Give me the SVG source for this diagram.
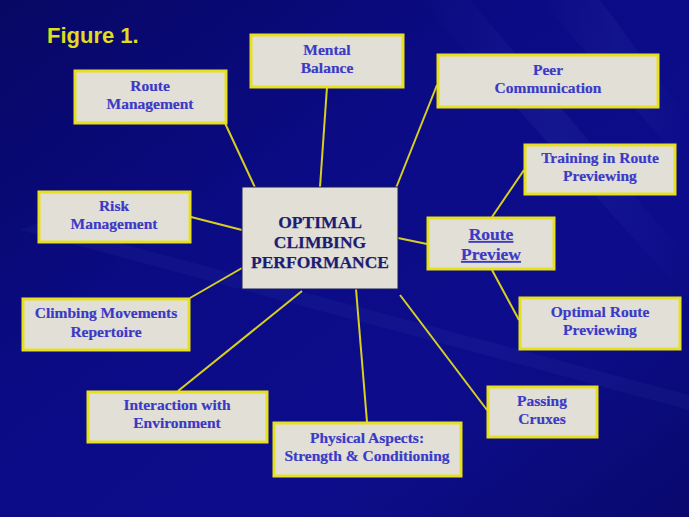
<svg xmlns="http://www.w3.org/2000/svg" width="689" height="517" viewBox="0 0 689 517">
<defs>
<linearGradient id="bg" x1="0" y1="0" x2="1" y2="1">
<stop offset="0" stop-color="#070764"/>
<stop offset="0.4" stop-color="#0b0b86"/>
<stop offset="0.7" stop-color="#0d0d8c"/>
<stop offset="1" stop-color="#09096e"/>
</linearGradient>
<linearGradient id="streak" x1="0" y1="0" x2="1" y2="0">
<stop offset="0" stop-color="#3a4ab0" stop-opacity="0"/>
<stop offset="0.5" stop-color="#3a4ab0" stop-opacity="0.35"/>
<stop offset="1" stop-color="#3a4ab0" stop-opacity="0"/>
</linearGradient>
<style>
.box{fill:#e2dfd6;stroke:#e6e020;stroke-width:3}
.center{fill:#e2dfd6;stroke:#1a1a5a;stroke-width:1}
.lbl{font-family:"Liberation Serif","Times New Roman",serif;font-weight:bold;font-size:15.5px;fill:#3a3ac6;text-anchor:middle;stroke:#3a3ac6;stroke-width:0.2}
.ctr{font-family:"Liberation Serif","Times New Roman",serif;font-weight:bold;font-size:17.5px;fill:#1c1c72;text-anchor:middle;stroke:#1c1c72;stroke-width:0.25}
.rp{font-family:"Liberation Serif","Times New Roman",serif;font-weight:bold;font-size:17.5px;fill:#3a3ac6;text-anchor:middle;text-decoration:underline;stroke:#3a3ac6;stroke-width:0.2}
.conn line{stroke:#d8d020;stroke-width:2}
</style>
</defs>
<rect width="689" height="517" fill="url(#bg)"/>
<g id="background-streaks">
<polygon points="420,0 470,0 689,260 689,300" fill="url(#streak)" opacity="0.5"/>
<polygon points="540,0 600,0 689,120 689,170" fill="url(#streak)" opacity="0.4"/>
<polygon points="20,230 40,222 689,395 689,410" fill="#3a4ab0" opacity="0.12"/>
</g>
<text x="47" y="43" font-family="Liberation Sans,Arial,sans-serif" font-weight="bold" font-size="22" fill="#e0dc20">Figure 1.</text>
<g class="conn" id="connectors">
<line x1="224" y1="121" x2="258" y2="194"/>
<line x1="327" y1="87" x2="320" y2="187"/>
<line x1="437" y1="85" x2="396" y2="188"/>
<line x1="191" y1="217" x2="242" y2="230"/>
<line x1="190" y1="298" x2="242" y2="268"/>
<line x1="178" y1="391" x2="302" y2="291"/>
<line x1="367" y1="422" x2="356" y2="289"/>
<line x1="487" y1="410" x2="400" y2="295"/>
<line x1="398" y1="238" x2="427" y2="244"/>
<line x1="524" y1="170" x2="492" y2="217"/>
<line x1="519" y1="320" x2="492" y2="270"/>
</g>
<g id="node-mental">
<rect class="box" x="251" y="35" width="152" height="52"/>
<text class="lbl" x="327" y="55">Mental</text>
<text class="lbl" x="327" y="73">Balance</text>
</g>
<g id="node-route-mgmt">
<rect class="box" x="75" y="71" width="151" height="52"/>
<text class="lbl" x="150" y="91">Route</text>
<text class="lbl" x="150" y="109">Management</text>
</g>
<g id="node-peer">
<rect class="box" x="438" y="55" width="220" height="52"/>
<text class="lbl" x="548" y="75">Peer</text>
<text class="lbl" x="548" y="93">Communication</text>
</g>
<g id="node-training">
<rect class="box" x="525" y="145" width="150" height="49"/>
<text class="lbl" x="600" y="163">Training in Route</text>
<text class="lbl" x="600" y="181">Previewing</text>
</g>
<g id="node-center">
<rect class="center" x="242" y="187" width="156" height="102"/>
<text class="ctr" x="320" y="228">OPTIMAL</text>
<text class="ctr" x="320" y="248">CLIMBING</text>
<text class="ctr" x="320" y="268">PERFORMANCE</text>
</g>
<g id="node-route-preview">
<rect class="box" x="428" y="218" width="126" height="51"/>
<text class="rp" x="491" y="240">Route</text>
<text class="rp" x="491" y="260">Preview</text>
</g>
<g id="node-risk">
<rect class="box" x="39" y="192" width="151" height="50"/>
<text class="lbl" x="114" y="211">Risk</text>
<text class="lbl" x="114" y="229">Management</text>
</g>
<g id="node-climbing">
<rect class="box" x="23" y="299" width="166" height="51"/>
<text class="lbl" x="106" y="318">Climbing Movements</text>
<text class="lbl" x="106" y="337">Repertoire</text>
</g>
<g id="node-optimal-route">
<rect class="box" x="520" y="298" width="160" height="51"/>
<text class="lbl" x="600" y="317">Optimal Route</text>
<text class="lbl" x="600" y="335">Previewing</text>
</g>
<g id="node-passing">
<rect class="box" x="488" y="387" width="109" height="50"/>
<text class="lbl" x="542" y="406">Passing</text>
<text class="lbl" x="542" y="424">Cruxes</text>
</g>
<g id="node-interaction">
<rect class="box" x="88" y="392" width="179" height="50"/>
<text class="lbl" x="177" y="410">Interaction with</text>
<text class="lbl" x="177" y="428">Environment</text>
</g>
<g id="node-physical">
<rect class="box" x="274" y="423" width="187" height="53"/>
<text class="lbl" x="367" y="443">Physical Aspects:</text>
<text class="lbl" x="367" y="461">Strength &amp; Conditioning</text>
</g>
</svg>
